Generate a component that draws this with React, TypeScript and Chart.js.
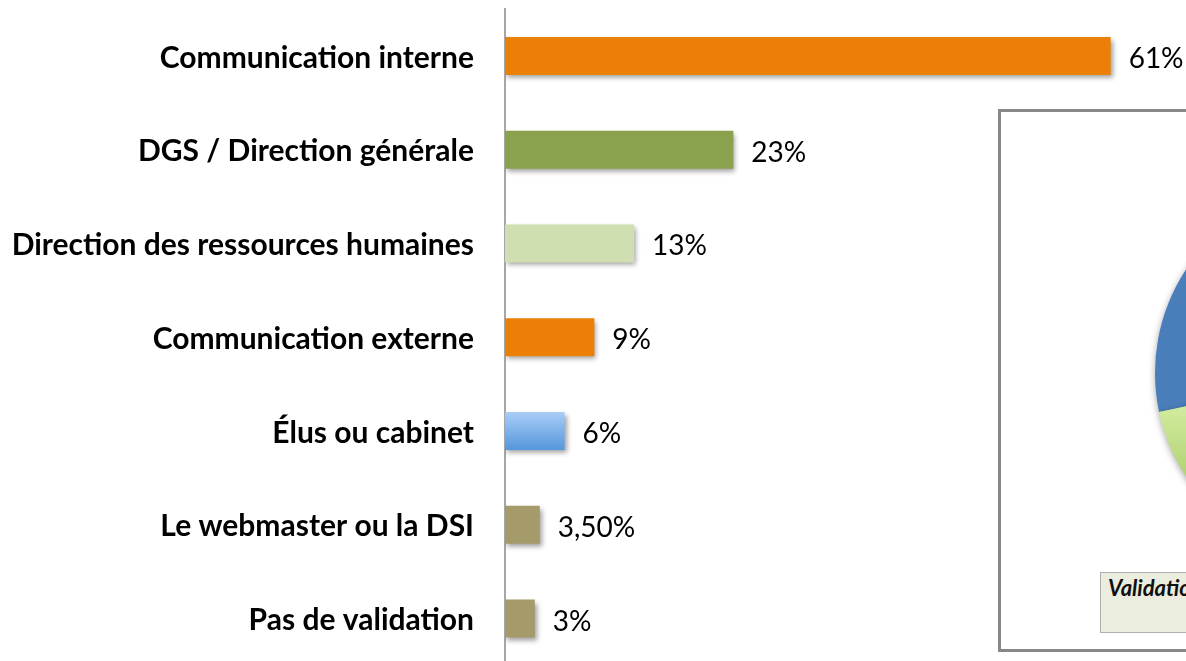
import React, { useEffect, useRef } from 'react';
import { Chart, registerables } from 'chart.js';

Chart.register(...registerables);

const categories = [
  'Communication interne',
  'DGS / Direction générale',
  'Direction des ressources humaines',
  'Communication externe',
  'Élus ou cabinet',
  'Le webmaster ou la DSI',
  'Pas de validation',
];
const values = [61, 23, 13, 9, 6, 3.5, 3];
const valueLabels = ['61%', '23%', '13%', '9%', '6%', '3,50%', '3%'];
const barColors = ['#EC7F06', '#8AA24D', '#D0DFB1', '#EC7F06', '#5596DC', '#A59A6A', '#A59A6A'];
const barGradientTops: (string | null)[] = [null, null, null, null, '#A9CDF7', null, null];

const pieLabels = ['Oui', 'Non'];
const pieValues = [70, 30];
const pieColors = ['#4A7EBA', '#A9CF63'];
const pieGradientTops = [null, '#D8F1A6'];
const pieTitle = 'Validation';

const FONT = 'Lato, "Noto Sans", sans-serif';
const BAR_PCT = 0.405;

export default function App() {
  const barRef = useRef<HTMLCanvasElement>(null);
  const pieRef = useRef<HTMLCanvasElement>(null);

  useEffect(() => {
    if (!barRef.current || !pieRef.current) return;

    const barPlugin = {
      id: 'barDecor',
      beforeDatasetsDraw(chart: any) {
        const ctx = chart.ctx;
        ctx.save();
        ctx.shadowColor = 'rgba(0,0,0,0.38)';
        ctx.shadowBlur = 5;
        ctx.shadowOffsetX = 2;
        ctx.shadowOffsetY = 3;
      },
      afterDatasetsDraw(chart: any) {
        const ctx = chart.ctx;
        ctx.restore();
        const meta = chart.getDatasetMeta(0);
        ctx.save();
        ctx.font = `400 28px ${FONT}`;
        ctx.fillStyle = '#000';
        ctx.textAlign = 'left';
        ctx.textBaseline = 'middle';
        meta.data.forEach((el: any, i: number) => {
          ctx.fillText(valueLabels[i], el.x + 18, el.y + 3);
        });
        ctx.restore();
      },
    };

    const bar = new Chart(barRef.current, {
      type: 'bar',
      data: {
        labels: categories,
        datasets: [
          {
            data: values,
            backgroundColor: (c: any) => {
              const i = c.dataIndex;
              const top = barGradientTops[i];
              const base = barColors[i];
              const ys = c.chart.scales?.y;
              if (!top || !ys || i === undefined) return base;
              const cy = ys.getPixelForValue(i);
              const half = (ys.height / categories.length) * BAR_PCT / 2;
              const g = c.chart.ctx.createLinearGradient(0, cy - half, 0, cy + half);
              g.addColorStop(0, top);
              g.addColorStop(1, base);
              return g;
            },
            borderWidth: 0,
            barPercentage: BAR_PCT,
            categoryPercentage: 1,
          },
        ],
      },
      options: {
        indexAxis: 'y',
        animation: false,
        responsive: false,
        layout: { padding: { left: 0, right: 100, top: 9, bottom: 4.5 } },
        plugins: { legend: { display: false }, tooltip: { enabled: false } },
        scales: {
          x: { display: false, min: 0, max: 70 },
          y: {
            afterFit: (s: any) => {
              s.width = 505;
              s.paddingTop = 0;
              s.paddingBottom = 0;
            },
            grid: { display: false, drawTicks: false },
            border: { display: true, color: '#A6A6A6', width: 2 },
            ticks: {
              color: '#000',
              padding: 31,
              labelOffset: 2,
              font: { family: FONT, size: 30, weight: 'bold' },
            },
          },
        },
      },
      plugins: [barPlugin],
    });

    const pieShadow = {
      id: 'pieShadow',
      beforeDatasetsDraw(chart: any) {
        const ctx = chart.ctx;
        ctx.save();
        ctx.shadowColor = 'rgba(0,0,0,0.35)';
        ctx.shadowBlur = 7;
        ctx.shadowOffsetX = 0;
        ctx.shadowOffsetY = 2;
      },
      afterDatasetsDraw(chart: any) {
        chart.ctx.restore();
      },
    };

    const pie = new Chart(pieRef.current, {
      type: 'pie',
      data: {
        labels: pieLabels,
        datasets: [
          {
            data: pieValues,
            backgroundColor: (c: any) => {
              const i = c.dataIndex;
              const top = pieGradientTops[i];
              const base = pieColors[i];
              const ca = c.chart.chartArea;
              if (!top || !ca) return base;
              const cy = (ca.top + ca.bottom) / 2;
              const r = (ca.bottom - ca.top) / 2;
              const g = c.chart.ctx.createLinearGradient(0, cy + 0.1 * r, 0, cy + r);
              g.addColorStop(0, top);
              g.addColorStop(1, '#8DB443');
              return g;
            },
            borderWidth: 0,
          },
        ],
      },
      options: {
        animation: false,
        responsive: false,
        rotation: 258,
        layout: { padding: 12 },
        plugins: { legend: { display: false }, tooltip: { enabled: false } },
      },
      plugins: [pieShadow],
    });

    return () => {
      bar.destroy();
      pie.destroy();
    };
  }, []);

  return (
    <div
      style={{
        position: 'fixed',
        left: 0,
        top: 0,
        width: 1186,
        height: 661,
        overflow: 'hidden',
        background: '#fff',
      }}
    >
      <canvas ref={barRef} width={1300} height={670} style={{ position: 'absolute', left: 0, top: 0 }} />
      <div
        style={{
          position: 'absolute',
          left: 998,
          top: 109,
          width: 420,
          height: 543,
          boxSizing: 'border-box',
          border: '3px solid #878787',
          background: '#fff',
        }}
      />
      <canvas ref={pieRef} width={400} height={400} style={{ position: 'absolute', left: 1143, top: 173 }} />
      <div
        style={{
          position: 'absolute',
          left: 1100,
          top: 572,
          width: 240,
          height: 61,
          boxSizing: 'border-box',
          border: '1px solid #AFAFAF',
          background: '#EBEEDF',
        }}
      >
        <span
          style={{
            position: 'absolute',
            left: 7,
            top: 2,
            fontFamily: FONT,
            fontSize: 22,
            lineHeight: '26px',
            fontWeight: 'bold',
            fontStyle: 'italic',
            color: '#111',
            whiteSpace: 'nowrap',
          }}
        >
          {pieTitle}
        </span>
      </div>
    </div>
  );
}
